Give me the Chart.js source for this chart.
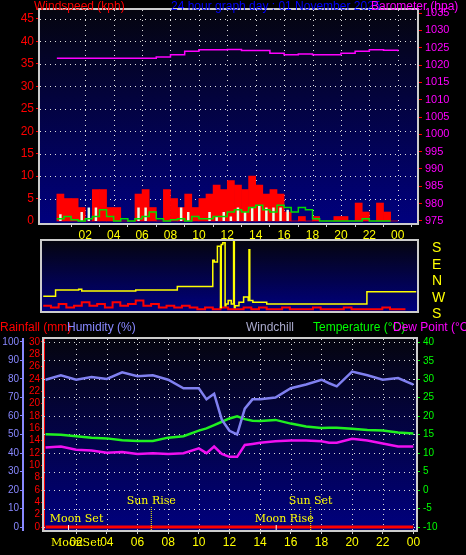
<!DOCTYPE html>
<html><head><meta charset="utf-8">
<script src="https://cdn.jsdelivr.net/npm/chart.js@4/dist/chart.umd.min.js"></script>
<style>
body{margin:0;background:#000;width:466px;height:555px;overflow:hidden;position:relative;font-family:"Liberation Sans",Arial,sans-serif}
canvas{position:absolute}
.t{position:absolute;font-size:12px;white-space:nowrap;line-height:12px}
</style></head><body>
<canvas id="c1" style="left:0;top:0"></canvas>
<canvas id="c2" style="left:0;top:236px"></canvas>
<canvas id="c3" style="left:0;top:330px"></canvas>
<div class="t" style="left:34px;top:0;color:#f00">Windspeed (kph)</div>
<div class="t" style="left:171px;top:0;color:#00f">24 hour graph day : 01 November 2025</div>
<div class="t" style="left:371px;top:0;color:#f0f">Barometer (hpa)</div>
<div class="t" style="left:432px;top:239px;color:#ff0;font-size:14px;line-height:16.5px">S<br>E<br>N<br>W<br>S</div>
<div class="t" style="left:0;top:321px;color:#f00">Rainfall (mm)</div>
<div class="t" style="left:67px;top:321px;color:#88f">Humidity (%)</div>
<div class="t" style="left:246px;top:321px;color:#aac">Windchill</div>
<div class="t" style="left:313px;top:321px;color:#0f0">Temperature (°C)</div>
<div class="t" style="left:393px;top:321px;color:#f0f">Dew Point (°C)</div>
<script>
// half-hour wind samples from 00:00
const windTimes = [0,0.5,1,1.5,2,2.5,3,3.5,4,4.5,5,5.5,6,6.5,7,7.5,8,8.5,9,9.5,10,10.5,11,11.5,12,12.5,13,13.5,14,14.5,15,15.5,16,16.5,17,17.5,18,18.5,19,19.5,20,20.5,21,21.5,22,22.5,23,23.5];
const gust = [6,5,5,3,0,7,7,3,3,0,0,6,7,3,0,7,5,3,6,3,5,6,8,7,9,8,7,10,8,6,7,6,2,0,1,0,1,0,0,1,1,0,4,2,0,4,2,0];
const lull = [1.5,0,0,2,3,3,0,0,0,0,0,3,3,0,0,0,0,3,2,0,0,2,1,2,1,3,2,3,3.5,3,3,3,2.5,0,0,0,0,0,0,0,0,0,0,0,0,0,0,0];
const avgWind = [0.5,1,0.3,0,0.5,1,2.5,1,0,0.5,0,0.5,1,2,0.5,0,0.3,0.5,0,1,0.5,0.5,1,1,2,2.5,2,3,3.5,2.5,2,3.5,3,2,3,2.5,0.5,0,0,0,0,0,0,0.5,0,0,0,0];
const windLow = [0.3,0.2,0.4,0.2,0.3,0.5,0.3,0.4,0.2,0.5,0.3,0.4,0.6,0.3,0.4,0.2,0.3,0.2,0.3,0.2,0.1,0.2,0.1,0.2,0.1,0.1,0.2,0.1,0.2,0.1,0.1,0.2,0.1,0.1,0.1,0.2,0.1,0.1,0.1,0.2,0.1,0.1,0.1,0.1,0.2,0.1,0.1,0.1];
const baroTimes = [0,1,2,3,4,5,6,7,8,9,10,11,12,13,14,15,16,17,18,19,20,21,22,23,24];
const baro = [1022,1022,1022,1022,1022,1022,1022,1022.3,1023,1024,1024.4,1024.4,1024.5,1024.2,1024.2,1023.4,1023,1023.2,1023,1023,1023.4,1024,1024.4,1024.3,1024];
const dirTimes = [0,0.8,2.3,2.5,6,8.7,11,11.1,11.3,11.5,11.55,11.65,11.8,11.85,12,12.2,12.35,12.4,12.45,12.7,13,13.3,13.35,13.4,13.6,14.5,21,24.2];
const dirVals = [0.85,1.2,1.25,1.15,1.2,1.4,2.9,2.8,3.7,0.2,3.8,3.9,0.3,0.4,0.6,0.4,4,0.2,0.3,0.5,0.8,0.6,3.5,0.6,0.5,0.4,1.1,1.1];
const hours = [0,1,2,3,4,5,6,7,8,9,10,10.5,11,11.5,12,12.5,13,13.5,14,15,16,17,18,18.5,19,20,21,22,23,24];
const humidity = [79.6,82,79.6,81,80,83.6,81.5,82,79.6,75,75,69,72,58,52,50,64,69,69,70,75,77,79.6,77.7,76,84,82,79.6,80.5,77];
const temperature = [15.1,15,14.6,14.2,14,13.5,13.3,13.3,14.2,14.6,16.1,16.7,17.6,18.5,19.4,20,19.2,18.8,18.7,19,18,17.2,16.8,16.9,16.9,16.6,16.3,16.1,15.6,15.3];
const dewPoint = [11.5,11.8,10.9,10.7,10.1,10.3,9.8,10,9.8,10,11.3,10,11.8,9.8,9,9,12.2,12.5,12.8,13.2,13.4,13.4,13.2,12.8,12.8,13.9,13.4,12.6,11.8,11.8];
const rainfall = [0,0,0,0,0,0,0,0,0,0,0,0,0,0,0,0,0,0,0,0,0,0,0,0,0,0,0,0,0,0];
const hourTicks = [2,4,6,8,10,12,14,16,18,20,22,24];

const pts = (xs, ys) => xs.map((x, i) => ({x: x, y: ys[i]}));
const hourLabel = v => String(Math.round(v) % 24).padStart(2, '0');
const bgPlugin = {
  id: 'bg',
  beforeDraw(c) {
    const a = c.chartArea, x = c.ctx;
    const g = x.createLinearGradient(0, a.top, 0, a.bottom);
    g.addColorStop(0, '#05050f'); g.addColorStop(1, '#00007e');
    x.fillStyle = g; x.fillRect(a.left, a.top, a.right - a.left, a.bottom - a.top);
  },
  // dotted grid from the scales' own ticks
  beforeDatasetsDraw(c) {
    const a = c.chartArea, x = c.ctx, gx = c.options.gridAxes || [];
    x.save(); x.strokeStyle = '#ddd'; x.lineWidth = 1; x.setLineDash([1, 4]);
    gx.forEach(id => {
      const s = c.scales[id];
      s.ticks.forEach(t => {
        const p = Math.round(s.getPixelForValue(t.value)) + 0.5;
        x.beginPath();
        if (s.isHorizontal()) { x.moveTo(p, a.top); x.lineTo(p, a.bottom); }
        else { x.moveTo(a.left, p); x.lineTo(a.right, p); }
        x.stroke();
      });
    });
    x.restore();
  },
  afterDraw(c) {
    const a = c.chartArea, x = c.ctx;
    x.strokeStyle = '#ccc'; x.lineWidth = 2;
    x.strokeRect(a.left - 1, a.top - 1, a.right - a.left + 2, a.bottom - a.top + 2);
  }
};
function fixW(w) { return s => { s.width = w; }; }
function fixH(h) { return s => { s.height = h; }; }
const noGrid = (col, len) => ({drawOnChartArea: false, tickColor: col, tickLength: len});
function xScale(min, max, h) {
  return {
    type: 'linear', min: min, max: max, afterFit: fixH(h),
    afterBuildTicks: s => { s.ticks = hourTicks.map(v => ({value: v})); },
    grid: noGrid('#ccc', 4), border: {display: false},
    ticks: {color: '#ff0', font: {size: 12, family: 'Liberation Sans'}, maxRotation: 0, autoSkip: false, padding: 1, callback: hourLabel}
  };
}

// top chart: wind and barometer
const c1 = document.getElementById('c1'); c1.width = 466; c1.height = 242;
new Chart(c1, {
  data: {datasets: [
    {type: 'line', data: pts(baroTimes, baro), yAxisID: 'yb', borderColor: '#f0f', borderWidth: 1.5, pointRadius: 0, stepped: true},
    {type: 'bar', data: pts(windTimes.map(t => t + 0.25), gust), yAxisID: 'y', backgroundColor: '#f00', barPercentage: 1, categoryPercentage: 1, grouped: false, order: 3},
    {type: 'bar', data: pts(windTimes.map(t => t + 0.25), lull), yAxisID: 'y', backgroundColor: '#e8ffe8', barPercentage: 0.35, categoryPercentage: 1, grouped: false, order: 2},
    {type: 'line', data: pts(windTimes, avgWind), yAxisID: 'y', borderColor: '#0d0', borderWidth: 1.5, pointRadius: 0, stepped: true, order: 1}
  ]},
  options: {
    gridAxes: ['x', 'y'],
    animation: false, responsive: false, maintainAspectRatio: false,
    layout: {padding: {top: 10, left: 0, right: 0, bottom: 0}},
    plugins: {legend: {display: false}, tooltip: {enabled: false}},
    scales: {
      x: xScale(-0.08, 24.25, 19),
      y: {min: -0.45, max: 47, position: 'left', afterFit: fixW(40),
          afterBuildTicks: s => { s.ticks = [5,10,15,20,25,30,35,40,45].map(v => ({value: v})); },
          grid: noGrid('#f00', 4), border: {display: false},
          ticks: {color: '#f00', font: {size: 12, family: 'Liberation Sans'}, padding: 2}},
      yb: {min: 974.4, max: 1035.9, position: 'right', afterFit: fixW(49),
          afterBuildTicks: s => { s.ticks = [975,980,985,990,995,1000,1005,1010,1015,1020,1025,1030,1035].map(v => ({value: v})); },
          grid: noGrid('#f00', 5), border: {display: false},
          ticks: {color: '#f0f', font: {size: 11, family: 'Liberation Sans'}, autoSkip: false, callback: v => String(v)}}
    }
  },
  plugins: [bgPlugin, {id: 'zero', afterDraw(c) {
    const x = c.ctx, s = c.scales.y;
    x.fillStyle = '#f00'; x.font = '12px "Liberation Sans"'; x.textAlign = 'right'; x.textBaseline = 'middle';
    x.fillText('0', 34, s.getPixelForValue(0));
  }}]
});

// middle chart: wind direction
const c2 = document.getElementById('c2'); c2.width = 466; c2.height = 78;
new Chart(c2, {
  type: 'line',
  data: {datasets: [
    {data: pts(dirTimes, dirVals), borderColor: '#ff0', borderWidth: 1.5, pointRadius: 0, stepped: true},
    {data: pts(windTimes, windLow), borderColor: '#f00', borderWidth: 2, pointRadius: 0, stepped: true}
  ]},
  options: {
    animation: false, responsive: false, maintainAspectRatio: false,
    layout: {padding: {top: 5, left: 42, right: 49, bottom: 3}},
    plugins: {legend: {display: false}, tooltip: {enabled: false}},
    scales: {
      x: {type: 'linear', min: -0.08, max: 24.25, display: false},
      y: {min: 0, max: 4, display: false}
    }
  },
  plugins: [bgPlugin]
});

// bottom chart: humidity, temperature, dew point, rain
const events = [
  {h: 6.9, label: 'Sun Rise', sun: true}, {h: 17.3, label: 'Sun Set', sun: true},
  {h: 1.5, label: 'Moon Set', sun: false}, {h: 15.05, label: 'Moon Rise', sun: false}
];
const eventPlugin = {
  id: 'events',
  afterDatasetsDraw(c) {
    const x = c.ctx, sx = c.scales.x, a = c.chartArea;
    x.save(); x.font = '11px "DejaVu Serif", serif'; x.textAlign = 'center'; x.fillStyle = '#ff0';
    events.forEach(e => {
      const px = sx.getPixelForValue(e.h);
      const top = e.sun ? a.bottom - 23 : a.bottom - 5;
      x.strokeStyle = e.sun ? '#ff0' : '#fff'; x.setLineDash(e.sun ? [1, 1] : []); x.lineWidth = 1;
      x.beginPath(); x.moveTo(px, top); x.lineTo(px, a.bottom); x.stroke();
      x.fillText(e.label, px + (e.sun ? 0 : 8), top - 3);
    });
    x.textAlign = 'left';
    x.fillText('MoonSet', a.left + 7, a.bottom + 16);
    x.restore();
  }
};
const c3 = document.getElementById('c3'); c3.width = 466; c3.height = 225;
new Chart(c3, {
  type: 'line',
  data: {datasets: [
    {data: pts(hours, rainfall), yAxisID: 'yr', borderColor: '#f00', borderWidth: 3, pointRadius: 0},
    {data: pts(hours, humidity), yAxisID: 'yh', borderColor: '#8080f0', borderWidth: 2.5, pointRadius: 0},
    {data: pts(hours, temperature), yAxisID: 'yt', borderColor: '#20f020', borderWidth: 2.5, pointRadius: 0},
    {data: pts(hours, dewPoint), yAxisID: 'yt', borderColor: '#f010f0', borderWidth: 2.5, pointRadius: 0}
  ]},
  options: {
    gridAxes: ['x', 'yh'],
    animation: false, responsive: false, maintainAspectRatio: false,
    layout: {padding: {top: 9, left: 0, right: 0, bottom: 0}},
    plugins: {legend: {display: false}, tooltip: {enabled: false}},
    scales: {
      x: xScale(-0.1, 24.17, 25),
      yr: {min: -0.48, max: 30.48, position: 'left', afterFit: fixW(21),
          afterBuildTicks: s => { s.ticks = [0,2,4,6,8,10,12,14,16,18,20,22,24,26,28,30].map(v => ({value: v})); },
          grid: noGrid('#f00', 3), border: {color: '#f00', width: 2},
          ticks: {color: '#f00', font: {size: 10, family: 'Liberation Sans'}, padding: 1, autoSkip: false}},
      yh: {min: -1.6, max: 101.6, position: 'left', afterFit: fixW(23),
          afterBuildTicks: s => { s.ticks = [0,10,20,30,40,50,60,70,80,90,100].map(v => ({value: v})); },
          grid: noGrid('#88f', 3), border: {color: '#88f', width: 2},
          ticks: {color: '#88f', font: {size: 10, family: 'Liberation Sans'}, padding: 1, autoSkip: false}},
      yt: {min: -10.8, max: 40.9, position: 'right', afterFit: fixW(50),
          afterBuildTicks: s => { s.ticks = [-10,-5,0,5,10,15,20,25,30,35,40].map(v => ({value: v})); },
          grid: noGrid('#0f0', 4), border: {color: '#0f0', width: 1},
          ticks: {color: '#0f0', font: {size: 10, family: 'Liberation Sans'}, autoSkip: false}}
    }
  },
  plugins: [bgPlugin, eventPlugin]
});
</script>
</body></html>
